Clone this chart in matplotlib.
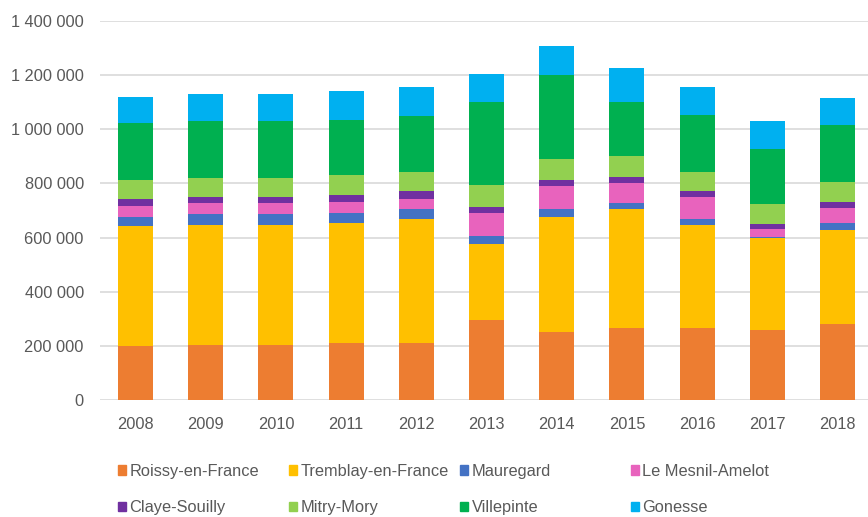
import numpy as np
import matplotlib.pyplot as plt
from matplotlib.patches import Patch

plt.rcParams['font.family'] = ['Liberation Sans', 'DejaVu Sans']

# années
years = ['2008', '2009', '2010', '2011', '2012', '2013', '2014', '2015', '2016', '2017', '2018']

# valeurs par commune (empilées de bas en haut)
roissy = [198500, 202200, 202200, 212200, 212200, 297200, 251400, 265100, 265100, 260300, 279900]
tremblay = [442600, 443700, 443700, 442200, 455800, 277300, 425200, 438800, 379700, 339200, 347500]
mauregard = [35500, 39500, 39500, 35800, 35900, 30700, 27300, 23300, 22100, 2000, 27000]
mesnil = [40600, 40700, 40700, 39600, 39200, 83900, 85000, 73900, 81400, 30700, 53200]
claye = [25900, 22200, 22200, 27000, 27400, 23300, 22200, 23300, 22200, 17400, 23300]
mitry = [68000, 71300, 71300, 72800, 71300, 81400, 79900, 76600, 71300, 72800, 75100]
villepinte = [210800, 210800, 210800, 205600, 207000, 307900, 309400, 200700, 210700, 205500, 209600]
gonesse = [98000, 98700, 98700, 107200, 106100, 103500, 107200, 125700, 102400, 102500, 98700]

series = [roissy, tremblay, mauregard, mesnil, claye, mitry, villepinte, gonesse]
labels = ['Roissy-en-France', 'Tremblay-en-France', 'Mauregard', 'Le Mesnil-Amelot',
          'Claye-Souilly', 'Mitry-Mory', 'Villepinte', 'Gonesse']
colors = ['#ED7D31', '#FFC000', '#4472C4', '#E863BD',
          '#7030A0', '#92D050', '#00B050', '#00B0F0']

fs = 11.8

fig = plt.figure(figsize=(8.68, 5.17), dpi=100)
ax = fig.add_axes([0.1157, 0.2263, 0.8896, 0.7331])

x = np.arange(len(years))
bottom = np.zeros(len(years))
for vals, lab, col in zip(series, labels, colors):
    ax.bar(x, vals, width=0.5, bottom=bottom, color=col, label=lab, zorder=3)
    bottom += np.array(vals)

ax.set_xlim(-0.5, 10.5)
ax.set_ylim(0, 1400000)
yt = np.arange(0, 1400001, 200000)
ax.set_yticks(yt)
ax.set_yticklabels([f'{v:,}'.replace(',', ' ') for v in yt])
ax.set_xticks(x)
ax.set_xticklabels(years)
ax.tick_params(axis='both', length=0, labelsize=fs, colors='#595959')
ax.tick_params(axis='y', pad=12)
ax.tick_params(axis='x', pad=12)
ax.grid(axis='y', color='#D9D9D9', linewidth=1.2, zorder=0)
for s in ax.spines.values():
    s.set_visible(False)

# légende : 4 colonnes régulières sur 2 lignes
handles = [Patch(color=c) for c in colors]
col_x = [118, 289, 460, 631]
for i, cx in enumerate(col_x):
    fig.legend([handles[i], handles[i + 4]], [labels[i], labels[i + 4]],
               loc='center left', bbox_to_anchor=(cx / 868, 0.053),
               frameon=False, fontsize=fs, labelcolor='#595959',
               borderpad=0, borderaxespad=0, handlelength=0.5, handleheight=0.5,
               handletextpad=0.2, labelspacing=1.3)

fig.savefig('out.png', dpi=100)
